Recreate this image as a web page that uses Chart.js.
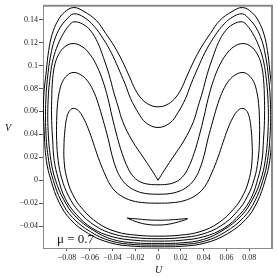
<!DOCTYPE html>
<html>
<head>
<meta charset="utf-8">
<script src="https://cdn.jsdelivr.net/npm/chart.js@4/dist/chart.umd.min.js"></script>
<style>
html,body{margin:0;padding:0;background:#fff;}
</style>
</head>
<body>
<canvas id="plot" width="277" height="277"></canvas>
<script>
// level curves (u, v), outermost first
var c1U = [0,-0.021,-0.042,-0.061,-0.077,-0.087,-0.094,-0.098,-0.100,-0.1005,-0.098,-0.096,-0.093,-0.088,-0.082,-0.074,-0.065,-0.054,-0.046,-0.038,-0.031,-0.025,-0.020,-0.014,-0.007,0,
           0.007,0.014,0.020,0.025,0.031,0.038,0.046,0.054,0.065,0.074,0.082,0.088,0.093,0.096,0.098,0.1005,0.100,0.098,0.094,0.087,0.077,0.061,0.042,0.021,0];
var c1V = [-0.058,-0.0575,-0.0545,-0.0465,-0.034,-0.019,0.000,0.017,0.043,0.070,0.096,0.113,0.127,0.139,0.1465,0.1505,0.147,0.139,0.128,0.116,0.103,0.090,0.079,0.0705,0.0655,0.064,
           0.0655,0.0705,0.079,0.090,0.103,0.116,0.128,0.139,0.147,0.1505,0.1465,0.139,0.127,0.113,0.096,0.070,0.043,0.017,0.000,-0.019,-0.034,-0.0465,-0.0545,-0.0575,-0.058];

var c2U = [0,-0.021,-0.041,-0.059,-0.075,-0.085,-0.092,-0.096,-0.0985,-0.0985,-0.0965,-0.094,-0.091,-0.086,-0.080,-0.074,-0.065,-0.056,-0.048,-0.041,-0.035,-0.029,-0.024,-0.0175,-0.0105,0,
           0.0105,0.0175,0.024,0.029,0.035,0.041,0.048,0.056,0.065,0.074,0.080,0.086,0.091,0.094,0.0965,0.0985,0.0985,0.096,0.092,0.085,0.075,0.059,0.041,0.021,0];
var c2V = [-0.0565,-0.056,-0.053,-0.045,-0.0325,-0.018,0.000,0.017,0.043,0.070,0.094,0.110,0.122,0.133,0.1405,0.145,0.142,0.134,0.123,0.111,0.098,0.084,0.071,0.059,0.050,0.046,
           0.050,0.059,0.071,0.084,0.098,0.111,0.123,0.134,0.142,0.145,0.1405,0.133,0.122,0.110,0.094,0.070,0.043,0.017,0.000,-0.018,-0.0325,-0.045,-0.053,-0.056,-0.0565];

// separatrix, starts and ends at the cusp
var c3U = [0,-0.005,-0.012,-0.023,-0.031,-0.035,-0.039,-0.043,-0.048,-0.053,-0.059,-0.066,-0.074,-0.078,-0.083,-0.088,-0.092,-0.0945,-0.0965,-0.0965,-0.094,-0.090,-0.083,-0.073,-0.057,-0.040,-0.021,0,
           0.021,0.040,0.057,0.073,0.083,0.090,0.094,0.0965,0.0965,0.0945,0.092,0.088,0.083,0.078,0.074,0.066,0.059,0.053,0.048,0.043,0.039,0.035,0.031,0.023,0.012,0.005,0];
var c3V = [0,0.008,0.0185,0.035,0.051,0.064,0.077,0.092,0.107,0.120,0.130,0.136,0.138,0.135,0.128,0.118,0.106,0.092,0.070,0.043,0.017,0.000,-0.0165,-0.031,-0.0435,-0.0515,-0.0545,-0.055,
           -0.0545,-0.0515,-0.0435,-0.031,-0.0165,0.000,0.017,0.043,0.070,0.092,0.106,0.118,0.128,0.135,0.138,0.136,0.130,0.120,0.107,0.092,0.077,0.064,0.051,0.035,0.0185,0.008,0];

// horseshoe curves inside the separatrix, start at the inner bottom under the cusp
var c4U = [0,-0.0079,-0.0149,-0.0211,-0.0263,-0.0316,-0.036,-0.0404,-0.044,-0.0483,-0.0535,-0.0597,-0.0667,-0.0746,-0.0816,-0.0868,-0.0904,-0.0925,-0.0934,-0.0934,-0.0925,-0.0912,-0.0877,-0.0816,-0.0719,-0.0579,-0.0404,-0.0211,0,
           0.0211,0.0404,0.0579,0.0719,0.0816,0.0877,0.0912,0.0925,0.0934,0.0934,0.0925,0.0904,0.0868,0.0816,0.0746,0.0667,0.0597,0.0535,0.0483,0.044,0.0404,0.036,0.0316,0.0263,0.0211,0.0149,0.0079,0];
var c4V = [-0.0039,-0.0035,-0.0017,0.0026,0.0104,0.0235,0.0383,0.0557,0.0713,0.0861,0.0991,0.1096,0.1165,0.1191,0.1165,0.1104,0.1017,0.0887,0.0696,0.0522,0.0348,0.0174,0.0017,-0.0157,-0.0296,-0.0417,-0.0491,-0.0522,-0.053,
           -0.0522,-0.0491,-0.0417,-0.0296,-0.0157,0.0017,0.0174,0.0348,0.0522,0.0696,0.0887,0.1017,0.1104,0.1165,0.1191,0.1165,0.1096,0.0991,0.0861,0.0713,0.0557,0.0383,0.0235,0.0104,0.0026,-0.0017,-0.0035,-0.0039];

var c5U = [0,-0.0096,-0.0184,-0.0263,-0.0325,-0.0368,-0.0404,-0.0439,-0.0482,-0.0526,-0.057,-0.0623,-0.0684,-0.0746,-0.0798,-0.0838,-0.0864,-0.0882,-0.089,-0.089,-0.0877,-0.0846,-0.0785,-0.0693,-0.0553,-0.0386,-0.0202,0,
           0.0202,0.0386,0.0553,0.0693,0.0785,0.0846,0.0877,0.089,0.089,0.0882,0.0864,0.0838,0.0798,0.0746,0.0684,0.0623,0.057,0.0526,0.0482,0.0439,0.0404,0.0368,0.0325,0.0263,0.0184,0.0096,0];
var c5V = [-0.0122,-0.0117,-0.0096,-0.0052,0.0017,0.0104,0.0217,0.0365,0.0522,0.067,0.0783,0.087,0.0922,0.0939,0.0913,0.0861,0.0783,0.067,0.0522,0.0348,0.0174,0.0017,-0.0139,-0.0274,-0.0396,-0.047,-0.05,-0.0509,
           -0.05,-0.047,-0.0396,-0.0274,-0.0139,0.0017,0.0174,0.0348,0.0522,0.067,0.0783,0.0861,0.0913,0.0939,0.0922,0.087,0.0783,0.067,0.0522,0.0365,0.0217,0.0104,0.0017,-0.0052,-0.0096,-0.0117,-0.0122];

var c6U = [0,-0.0114,-0.0228,-0.0333,-0.0412,-0.0474,-0.0526,-0.057,-0.0614,-0.0658,-0.0702,-0.0746,-0.0781,-0.0803,-0.0816,-0.0825,-0.0825,-0.0803,-0.075,-0.0662,-0.0526,-0.0368,-0.0193,0,
           0.0193,0.0368,0.0526,0.0662,0.075,0.0803,0.0825,0.0825,0.0816,0.0803,0.0781,0.0746,0.0702,0.0658,0.0614,0.057,0.0526,0.0474,0.0412,0.0333,0.0228,0.0114,0];
var c6V = [-0.020,-0.0196,-0.0178,-0.013,-0.0052,0.007,0.020,0.033,0.0452,0.0548,0.0609,0.0626,0.060,0.0539,0.0452,0.033,0.0174,0.0026,-0.0122,-0.0252,-0.0374,-0.0448,-0.0478,-0.0487,
           -0.0478,-0.0448,-0.0374,-0.0252,-0.0122,0.0026,0.0174,0.033,0.0452,0.0539,0.060,0.0626,0.0609,0.0548,0.0452,0.033,0.020,0.007,-0.0052,-0.013,-0.0178,-0.0196,-0.020];

// small crescent near the bottom
var c7U = [-0.027,-0.018,-0.009,0,0.009,0.018,0.026,0.018,0.009,0,-0.009,-0.018,-0.027];
var c7V = [-0.0330,-0.0337,-0.0345,-0.0348,-0.0346,-0.0340,-0.0335,-0.0362,-0.0383,-0.0390,-0.0385,-0.0365,-0.0330];

var xTickVals = [-0.08,-0.06,-0.04,-0.02,0,0.02,0.04,0.06,0.08];
var xTickLabels = ['\u22120.08','\u22120.06','\u22120.04','\u22120.02','0','0.02','0.04','0.06','0.08'];
var yTickVals = [-0.04,-0.02,0,0.02,0.04,0.06,0.08,0.1,0.12,0.14];
var yTickLabels = ['\u22120.04','\u22120.02','0','0.02','0.04','0.06','0.08','0.1','0.12','0.14'];

var curves = [[c1U,c1V],[c2U,c2V],[c3U,c3V],[c4U,c4V],[c5U,c5V],[c6U,c6V],[c7U,c7V]];

var datasets = curves.map(function(c){
    return {
        data: c[0].map(function(u,i){ return {x:u, y:c[1][i]}; }),
        showLine: true,
        borderColor: '#000',
        borderWidth: 1,
        pointRadius: 0,
        tension: 0.4,
        fill: false
    };
});

var serif = 'Liberation Serif';

var framePlugin = {
    id: 'frame',
    afterDraw: function(chart){
        var a = chart.chartArea, ctx = chart.ctx;
        ctx.save();
        ctx.strokeStyle = '#8a8a8a';
        ctx.lineWidth = 2;
        ctx.beginPath();
        ctx.moveTo(a.left, a.top);
        ctx.lineTo(a.right, a.top);
        ctx.lineTo(a.right, a.bottom);
        ctx.stroke();
        ctx.fillStyle = '#111';
        ctx.font = '13px "' + serif + '"';
        ctx.textBaseline = 'alphabetic';
        ctx.textAlign = 'left';
        ctx.fillText('\u03bc = 0.7', 57, 243);
        ctx.font = 'italic 10px "' + serif + '"';
        ctx.textAlign = 'center';
        ctx.fillText('U', (a.left + a.right) / 2 + 1, 273);
        ctx.fillText('V', 8, 131);
        ctx.restore();
    }
};

new Chart(document.getElementById('plot'), {
    type: 'scatter',
    data: {datasets: datasets},
    options: {
        responsive: false,
        animation: false,
        layout: {padding: {top: 5, right: 5, left: 0, bottom: 0}},
        plugins: {legend: {display: false}, tooltip: {enabled: false}},
        scales: {
            x: {
                type: 'linear', min: -0.101, max: 0.1,
                afterBuildTicks: function(s){ s.ticks = xTickVals.map(function(v){ return {value: v}; }); },
                afterFit: function(s){ s.height = 29; },
                ticks: {
                    callback: function(v){ return xTickLabels[xTickVals.indexOf(v)]; },
                    font: {family: serif, size: 8}, color: '#222', padding: 2,
                    maxRotation: 0, autoSkip: false
                },
                grid: {drawOnChartArea: false, drawTicks: true, tickLength: 3, color: '#555'},
                border: {color: '#8a8a8a', width: 1}
            },
            y: {
                type: 'linear', min: -0.059, max: 0.152,
                afterBuildTicks: function(s){ s.ticks = yTickVals.map(function(v){ return {value: v}; }); },
                afterFit: function(s){ s.width = 43; },
                ticks: {
                    callback: function(v){ return yTickLabels[yTickVals.indexOf(v)]; },
                    font: {family: serif, size: 8}, color: '#222', padding: 1,
                    autoSkip: false
                },
                grid: {drawOnChartArea: false, drawTicks: true, tickLength: 4, color: '#555'},
                border: {color: '#8a8a8a', width: 1}
            }
        }
    },
    plugins: [framePlugin]
});
</script>
</body>
</html>
